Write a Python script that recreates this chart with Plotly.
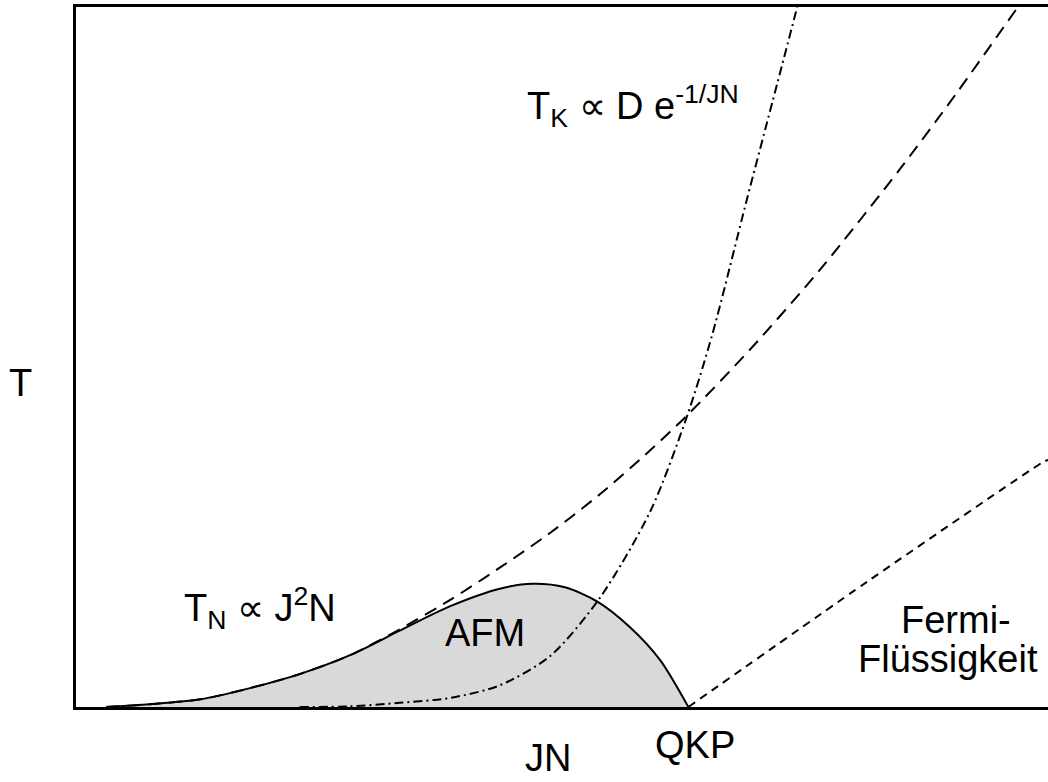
import plotly.graph_objects as go

# Doniach phase diagram: coupling JN on x, temperature T on y (arbitrary units)

# Neel temperature of the antiferromagnetic dome
afm_x = [0.031, 0.076, 0.128, 0.179, 0.230, 0.282, 0.333, 0.385, 0.436, 0.470, 0.503, 0.536, 0.570, 0.601, 0.630]
afm_t = [0.000, 0.004, 0.011, 0.027, 0.047, 0.074, 0.109, 0.144, 0.169, 0.176, 0.171, 0.151, 0.114, 0.067, 0.000]

# RKKY scale T_N ~ J^2 N
rkky_x = [0.031, 0.076, 0.128, 0.179, 0.230, 0.282, 0.333, 0.385, 0.436, 0.488, 0.539, 0.591, 0.629,
          0.693, 0.765, 0.848, 0.907, 0.969]
rkky_t = [0.000, 0.004, 0.011, 0.027, 0.047, 0.074, 0.111, 0.153, 0.199, 0.249, 0.304, 0.367, 0.417,
          0.510, 0.624, 0.769, 0.879, 1.000]

# Kondo scale T_K ~ D exp(-1/JN)
kondo_x = [0.230, 0.282, 0.333, 0.385, 0.436, 0.488, 0.539, 0.591, 0.629, 0.655, 0.690, 0.717, 0.742]
kondo_t = [0.000, 0.001, 0.006, 0.013, 0.031, 0.073, 0.156, 0.280, 0.417, 0.534, 0.724, 0.867, 1.000]

# Crossover into the Fermi liquid
fl_x = [0.630, 0.814, 0.995, 1.000]
fl_t = [0.000, 0.179, 0.350, 0.353]

FONT = "Liberation Sans, Arial, sans-serif"
SIZE = 38

fig = go.Figure()

fig.add_trace(go.Scatter(
    x=afm_x, y=afm_t, mode="lines", fill="tozeroy", fillcolor="#d9d9d9",
    line=dict(color="black", width=2, shape="spline", smoothing=0.8),
    hoverinfo="skip"))

fig.add_trace(go.Scatter(
    x=rkky_x, y=rkky_t, mode="lines",
    line=dict(color="black", width=2, dash="13px,8px", shape="spline", smoothing=0.8),
    hoverinfo="skip"))

fig.add_trace(go.Scatter(
    x=kondo_x, y=kondo_t, mode="lines",
    line=dict(color="black", width=2, dash="9px,4px,2px,4px", shape="spline", smoothing=0.8),
    hoverinfo="skip"))

fig.add_trace(go.Scatter(
    x=fl_x, y=fl_t, mode="lines",
    line=dict(color="black", width=2, dash="8px,6px", shape="spline", smoothing=0.6),
    hoverinfo="skip"))

labels = [
    # (text, x, y, xanchor)
    ("AFM", 0.421, 0.106, "center"),
    ("T<sub>N</sub> ∝ J<sup>2</sup>N", 0.109, 0.141, "left"),
    ("T<sub>K</sub> ∝ D e<sup>-1/JN</sup>", 0.462, 0.858, "left"),
    ("Fermi-", 0.905, 0.1236, "center"),
    ("Flüssigkeit", 0.8976, 0.0679, "center"),
    ("T", -0.0576, 0.463, "center"),
    ("JN", 0.4856, -0.0729, "center"),
    ("QKP", 0.637, -0.054, "center"),
]
for text, x, y, xa in labels:
    fig.add_annotation(text=text, x=x, y=y, xref="paper", yref="paper",
                       xanchor=xa, yanchor="middle", showarrow=False,
                       font=dict(family=FONT, size=SIZE, color="black"))

fig.update_xaxes(range=[0, 1], showgrid=False, zeroline=False, showticklabels=False,
                 ticks="", showline=True, linecolor="black", linewidth=2.5, mirror=True)
fig.update_yaxes(range=[0, 1], showgrid=False, zeroline=False, showticklabels=False,
                 ticks="", showline=True, linecolor="black", linewidth=2.5)

fig.update_layout(
    width=1048, height=782,
    margin=dict(l=76, r=0, t=7, b=75),
    paper_bgcolor="white", plot_bgcolor="white",
    showlegend=False,
    font=dict(family=FONT, size=SIZE, color="black"),
)

fig.write_html("out.html")
